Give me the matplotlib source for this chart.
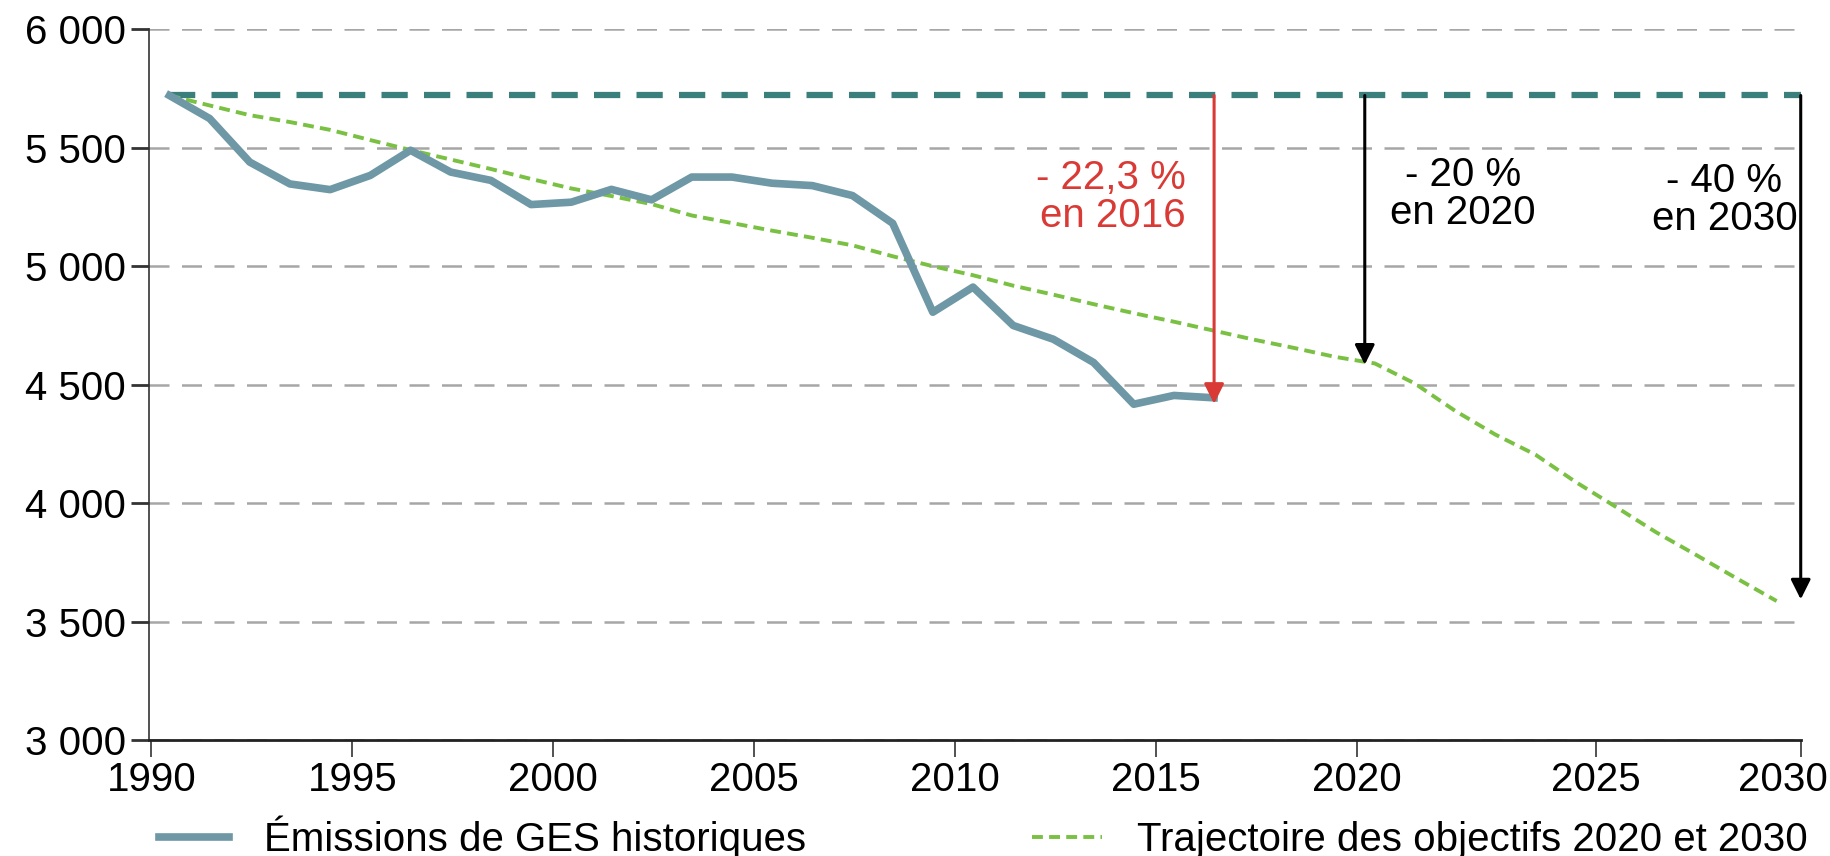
import numpy as np
import matplotlib
matplotlib.use('Agg')
import matplotlib.pyplot as plt
import matplotlib.transforms as mtransforms
from matplotlib.ticker import FuncFormatter

# Emissions de GES (Mt CO2e)
hist_years = list(range(1990, 2017))
hist_values = [5720, 5623, 5439, 5347, 5323, 5383, 5489, 5397, 5362, 5260,
               5270, 5324, 5280, 5376, 5376, 5350, 5340, 5298, 5181, 4806,
               4912, 4750, 4692, 4594, 4418, 4455, 4445]

traj_years = list(range(1990, 2031))
traj_values = [5720, 5678, 5637, 5608, 5575, 5532, 5490, 5450, 5410, 5368,
               5328, 5296, 5262, 5214, 5182, 5150, 5120, 5088, 5042, 5000,
               4962, 4918, 4880, 4840, 4802, 4766, 4728, 4690, 4655, 4618,
               4590, 4505, 4390, 4290, 4205, 4090, 3985, 3878, 3782, 3684, 3588]

ref_1990 = 5720
targets = [(2016.0, 4420, '- 22,3 %\nen 2016', '#d93a35'),
           (2019.75, 4585, '- 20 %\nen 2020', 'black'),
           (2030.6, 3595, '- 40 %\nen 2030', 'black')]

tick_years = [1990, 1995, 2000, 2005, 2010, 2015, 2020, 2025, 2030]
tick_pos = [y - 0.45 for y in tick_years[:-2]] + [2025.5, 2030.6]

plt.rcParams['font.family'] = ['Liberation Sans', 'DejaVu Sans']
plt.rcParams['font.size'] = 29

fig = plt.figure(figsize=(18.3, 8.56), dpi=100)
ax = fig.add_axes([0.0816, 0.135, 0.9024, 0.831])

ax.set_xlim(1989.5, 2030.6)
ax.set_ylim(3000, 6000)
ax.set_yticks(np.arange(3000, 6001, 500))
ax.yaxis.set_major_formatter(FuncFormatter(lambda v, p: f'{int(v):,}'.replace(',', ' ')))
ax.set_xticks(tick_pos)
ax.set_xticklabels([str(y) for y in tick_years[:-1]] + [''])

ax.grid(axis='y', color='#a6a6a6', lw=1.8, linestyle=(0, (8, 5)))
ax.set_axisbelow(True)
for s in ['top', 'right']:
    ax.spines[s].set_visible(False)
ax.spines['left'].set_color('#333333')
ax.spines['left'].set_linewidth(1.2)
ax.spines['bottom'].set_color('#222222')
ax.spines['bottom'].set_linewidth(2)
ax.tick_params(axis='y', length=13, width=2, color='#333333', pad=4)
ax.tick_params(axis='x', length=12, width=1.2, color='#333333', pad=3)

# dernier libellé (2030) décalé vers la gauche pour rester dans la figure
trans = ax.get_xaxis_transform() + mtransforms.ScaledTranslation(
    -0.18, -15 / 72, fig.dpi_scale_trans)
ax.text(tick_pos[-1], 0, str(tick_years[-1]), transform=trans,
        ha='center', va='top', clip_on=False)

# niveau de 1990
ax.plot([1990, 2030.6], [ref_1990, ref_1990], color='#3b7f7c', lw=4.5,
        linestyle=(0, (4.2, 2.6)), dash_capstyle='butt', zorder=3)

ax.plot(hist_years, hist_values, color='#6e98a5', lw=5.5, zorder=4,
        solid_joinstyle='round', label='Émissions de GES historiques')
ax.plot(traj_years, traj_values, color='#7ac143', lw=2.8,
        linestyle=(0, (2.8, 1.6)), zorder=3,
        label='Trajectoire des objectifs 2020 et 2030')

for x, y, txt, c in targets:
    ax.annotate('', xy=(x, y), xytext=(x, ref_1990),
                arrowprops=dict(arrowstyle='-|>', color=c, lw=2.2,
                                mutation_scale=30, shrinkA=0, shrinkB=0),
                zorder=5, annotation_clip=False)

ax.text(2015.3, 5290, targets[0][2], color=targets[0][3], ha='right',
        va='center', multialignment='right', linespacing=1.0)
ax.text(2022.2, 5305, targets[1][2], color='black', ha='center',
        va='center', multialignment='center', linespacing=1.0)
ax.text(2028.7, 5280, targets[2][2], color='black', ha='center',
        va='center', multialignment='center', linespacing=1.0)

fig.legend(loc='center left', bbox_to_anchor=(0.067, 0.022), ncol=2,
           frameon=False, handlelength=1.74, handletextpad=0.87,
           columnspacing=5.6)

fig.savefig('out.png', dpi=100)
